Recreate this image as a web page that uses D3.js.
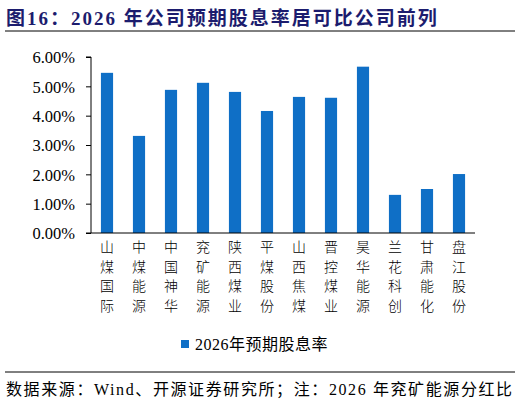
<!DOCTYPE html><html><head><meta charset="utf-8"><script src="https://cdn.jsdelivr.net/npm/d3@7"></script>
<style>body{margin:0;background:#fff}</style></head><body><svg id="c" width="520" height="405"></svg>
<script>
const categories=["山煤国际","中煤能源","中国神华","兖矿能源","陕西煤业","平煤股份","山西焦煤","晋控煤业","昊华能源","兰花科创","甘肃能化","盘江股份"];
const values=[5.46,3.31,4.88,5.12,4.81,4.16,4.64,4.61,5.67,1.30,1.50,2.01];
const tickValues=[0,1,2,3,4,5,6];
const seriesName="2026年预期股息率";
const svg=d3.select("#c");
const serif="'Liberation Serif','Times New Roman',serif";
const cjk="'Noto Sans CJK SC',sans-serif";
svg.append("text").attr("x",6).attr("y",25).attr("fill","#1c1c6e").attr("font-weight","bold").attr("font-size",19).attr("letter-spacing",2).attr("font-family",serif+","+cjk).text("图16：2026 年公司预期股息率居可比公司前列");
svg.append("line").attr("x1",5).attr("x2",515).attr("y1",31).attr("y2",31).attr("stroke","#000").attr("stroke-width",1);
const x=d3.scaleBand().domain(categories).range([91,475]).paddingInner(0.62).paddingOuter(0.31);
const y=d3.scaleLinear().domain([0,6]).range([233,57]);
svg.selectAll("rect.b").data(values).join("rect").attr("x",(d,i)=>x(categories[i])).attr("width",x.bandwidth()).attr("y",d=>y(d)).attr("height",d=>y(0)-y(d)).attr("fill","#0f6fc6");
const ya=svg.append("g").attr("transform","translate(91,0)").call(d3.axisLeft(y).tickValues(tickValues).tickSize(5).tickFormat(d=>d.toFixed(2)+"%"));
ya.selectAll("text").attr("font-family",serif).attr("font-size",16.5).attr("fill","#000").attr("x",-16).attr("dy","0.35em");
ya.select(".domain").attr("d","M-5,57H0V233H-5");
const xa=svg.append("g").attr("transform","translate(0,233)").call(d3.axisBottom(x).tickSize(0));
xa.select(".domain").attr("d","M91,0H475");
xa.selectAll("text").remove();
svg.selectAll("text.cat").data(categories).join("text").attr("class","cat").attr("font-family",cjk).attr("font-size",14).attr("font-weight",300).attr("fill","#000")
 .attr("writing-mode","vertical-rl").attr("x",d=>x(d)+x.bandwidth()/2).attr("y",240).attr("letter-spacing",5.5).text(d=>d);
svg.append("rect").attr("x",181).attr("y",340).attr("width",8).attr("height",8).attr("fill","#0f6fc6");
svg.append("text").attr("x",195).attr("y",350).attr("font-family",serif+","+cjk).attr("font-size",16).attr("letter-spacing",0.5).text(seriesName);
svg.append("line").attr("x1",5).attr("x2",515).attr("y1",372).attr("y2",372).attr("stroke","#000").attr("stroke-width",1);
svg.append("text").attr("x",6).attr("y",395).attr("font-family",serif+","+cjk).attr("font-size",16).attr("letter-spacing",1.6).text("数据来源：Wind、开源证券研究所；注：2026 年兖矿能源分红比");
</script></body></html>
